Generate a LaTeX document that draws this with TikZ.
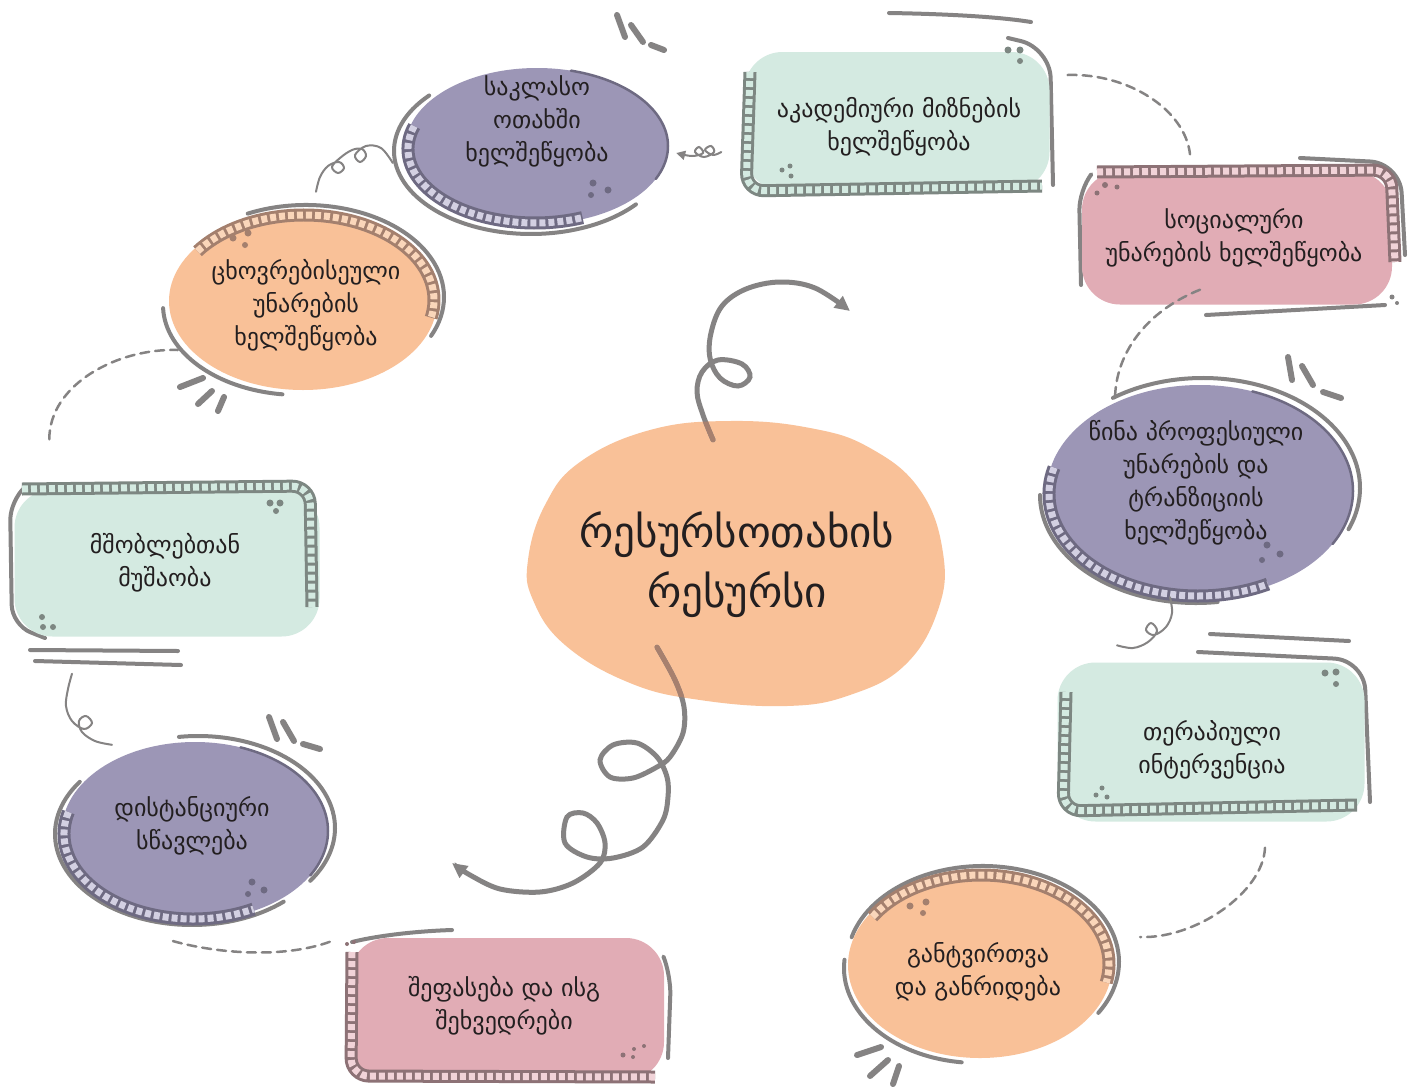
\documentclass[tikz,border=0pt]{standalone}
\usepackage{fontspec}
\setmainfont{DejaVu Sans}
\usetikzlibrary{arrows.meta,shapes.geometric}
\definecolor{ink}{HTML}{231F20}
\definecolor{sk}{HTML}{858383}
\definecolor{purp}{HTML}{9C96B6}
\definecolor{purpdk}{HTML}{6E6A82}
\definecolor{purplt}{HTML}{D3D0E2}
\definecolor{grn}{HTML}{D4EAE1}
\definecolor{grndk}{HTML}{7D8782}
\definecolor{grnlt}{HTML}{D4EAE1}
\definecolor{pnk}{HTML}{E1ACB5}
\definecolor{pnkdk}{HTML}{8D7276}
\definecolor{pnklt}{HTML}{F1D3D8}
\definecolor{org}{HTML}{F9C198}
\definecolor{orgdk}{HTML}{A4806E}
\definecolor{orglt}{HTML}{FAD6BA}
\definecolor{hubbrown}{HTML}{A7806E}
\tikzset{
  lbl/.style={text=ink, align=center, font=\fontsize{24}{33}\selectfont, inner sep=0},
  hublbl/.style={text=ink, align=center, font=\fontsize{43}{60}\selectfont, inner sep=0},
  oval/.style={ellipse, fill=#1, draw=none, inner sep=0},
  card/.style={rectangle, rounded corners=38, fill=#1, draw=none, inner sep=0},
  bandline/.style={line width=13, draw=#1, line join=round},
  hatchline/.style={line width=7, draw=#1, dash pattern=on 6 off 3},
  sketch/.style={line width=4, draw=sk, line cap=round, line join=round},
  thinline/.style={line width=2.5, draw=#1, line cap=round},
  ray/.style={line width=6, draw=sk, line cap=round},
  dashlink/.style={line width=2.5, draw=sk, dash pattern=on 9 off 6, line cap=round},
  curl/.style={line width=2, draw=sk, line cap=round},
  bigcurl/.style={line width=5, draw=sk, line cap=round},
  smalltip/.style={-{Triangle[length=9,width=9]}},
  bigtip/.style={-{Triangle[length=15,width=14]}},
}
\newcommand\skarc[6][sketch]{\draw[#1] (#2) ++(#5:#3 and #4) arc[start angle=#5,end angle=#6,x radius=#3,y radius=#4];}
\newcommand\bandarc[7]{%
  \draw[bandline=#6] (#1) ++(#4:#2 and #3) arc[start angle=#4,end angle=#5,x radius=#2,y radius=#3];
  \draw[hatchline=#7] (#1) ++(#4:#2 and #3) arc[start angle=#4,end angle=#5,x radius=#2,y radius=#3];}
\newcommand\bandpath[3]{%
  \draw[bandline=#1, rounded corners=18] #3;
  \draw[hatchline=#2, rounded corners=18] #3;}
\newcommand\dotgroup[4]{\fill[#1] (#2) circle[radius=3.5] (#3) circle[radius=3.5] (#4) circle[radius=3];}
\begin{document}
\begin{tikzpicture}[x=1pt,y=-1pt]
\useasboundingbox (0,0) rectangle (1411,1087);
\fill[white] (0,0) rectangle (1411,1087);

% ---------- sketch outlines (behind) ----------
\skarc{531,151}{137}{83}{222}{40}
\skarc{306,297}{138}{92}{245}{385}
\skarc{299,305}{136}{90}{178}{97}
\skarc{983,962}{136}{96}{195}{392}
\skarc{978,968}{134}{95}{185}{97}
\skarc{1203,488}{157}{110}{235}{382}
\skarc{1196,495}{156}{108}{180}{82}
\skarc{198,828}{137}{92}{262}{395}
\skarc{192,834}{137}{91}{215}{48}
\draw[sketch, rounded corners=30] (1008,38) -- (1050,48) -- (1053,185);
\draw[sketch] (889,13) .. controls (950,14) and (1000,17) .. (1031,22);
\draw[sketch, rounded corners=30] (1198,652) -- (1364,660) -- (1370,802);
\draw[sketch] (1210,634) -- (1349,641);
\draw[sketch, rounded corners=20] (24,488) -- (10,500) -- (12,625) -- (45,638);
\draw[sketch] (30,650) -- (178,651);
\draw[sketch] (35,661) -- (181,665);
\draw[sketch, rounded corners=30] (1300,158) -- (1400,163) -- (1405,255);
\draw[sketch, rounded corners=20] (1090,176) -- (1079,190) -- (1081,285);
\draw[sketch] (1206,315) -- (1385,305);
\draw[sketch] (352,942) .. controls (380,935) and (420,931) .. (452,930);
\draw[sketch, rounded corners=20] (664,958) -- (671,975) -- (668,1058);

% ---------- shapes ----------
\node[oval=purp, minimum width=262, minimum height=156] (cls) at (537,146) {};
\node[card=grn, minimum width=305, minimum height=138] (acad) at (897,121) {};
\node[card=pnk, minimum width=310, minimum height=133] (soc) at (1237,238) {};
\node[oval=purp, minimum width=306, minimum height=212] (pre) at (1200,491) {};
\node[card=grn, minimum width=307, minimum height=159] (ther) at (1211,742) {};
\node[oval=org, minimum width=264, minimum height=186] (unl) at (980,965) {};
\node[card=pnk, minimum width=314, minimum height=142] (asmt) at (507,1009) {};
\node[oval=purp, minimum width=266, minimum height=178] (dist) at (195,831) {};
\node[card=grn, minimum width=305, minimum height=147] (par) at (167,563) {};
\node[oval=org, minimum width=268, minimum height=178] (life) at (303,301) {};

\fill[org] plot[smooth cycle, tension=0.7] coordinates {(528,560) (545,505) (580,462) (650,430) (730,421) (810,428) (870,448) (920,490) (943,553) (938,610) (905,665) (850,695) (787,706) (700,700) (630,683) (565,645) (533,600)};
\node[ellipse, minimum width=416, minimum height=284, inner sep=0] (hub) at (737,563) {};

% ---------- right thin lines of purple ovals ----------
\skarc[thinline=purpdk]{537,146}{131}{78}{285}{385}
\skarc[thinline=purpdk]{1200,491}{153}{106}{290}{390}
\skarc[thinline=purpdk]{195,831}{133}{89}{290}{390}

% ---------- hatched bands ----------
\bandarc{535,149}{127}{74}{198}{68}{purpdk}{purplt}
\bandarc{1198,494}{149}{102}{195}{62}{purpdk}{purplt}
\bandarc{193,834}{129}{85}{195}{62}{purpdk}{purplt}
\bandarc{304,300}{130}{85}{215}{372}{orgdk}{orglt}
\bandarc{981,964}{128}{89}{212}{372}{orgdk}{orglt}
\bandpath{grndk}{grnlt}{(750,72) -- (746,191) -- (1042,186)}
\bandpath{grndk}{grnlt}{(1066,692) -- (1063,811) -- (1357,805)}
\bandpath{grndk}{grnlt}{(22,489) -- (310,486) -- (312,607)}
\bandpath{pnkdk}{pnklt}{(1097,172) -- (1391,170) -- (1395,262)}
\bandpath{pnkdk}{pnklt}{(352,952) -- (351,1076) -- (655,1077)}

% ---------- dots ----------
\dotgroup{purpdk}{593,183}{608,190}{591,195}
\dotgroup{purpdk}{1267,545}{1280,554}{1262,560}
\dotgroup{purpdk}{252,882}{264,890}{248,894}
\dotgroup{orgdk}{233,238}{248,233}{245,245}
\dotgroup{orgdk}{910,906}{926,902}{923,913}
\dotgroup{grndk}{1008,50}{1020,50}{1020,61}
\dotgroup{grndk}{1325,673}{1336,672}{1336,684}
\dotgroup{grndk}{270,503}{280,503}{276,511}
\fill[grndk] (782,170) circle[radius=2.5] (790,166) circle[radius=2.5] (791,176) circle[radius=2.5];
\fill[grndk] (1102,788) circle[radius=2.5] (1096,795) circle[radius=2.5] (1107,797) circle[radius=2.5];
\fill[grndk] (42,617) circle[radius=3] (43,627) circle[radius=3] (53,627) circle[radius=3];
\fill[pnkdk] (1105,185) circle[radius=3] (1117,187) circle[radius=2.5] (1097,193) circle[radius=2.5];
\fill[sk] (1392,297) circle[radius=2.5] (1397,303) circle[radius=2];
\fill[pnkdk] (347,944) circle[radius=2] (354,942) circle[radius=2];
\fill[pnkdk] (623,1055) circle[radius=2.5] (633,1057) circle[radius=2] (634,1049) circle[radius=2] (644,1046) circle[radius=2];

% ---------- rays ----------
\draw[ray] (617,15) -- (625,37) (631,25) -- (643,42) (651,45) -- (664,50);
\draw[ray] (1288,357) -- (1292,380) (1302,366) -- (1313,385) (1323,392) -- (1341,398);
\draw[ray] (269,717) -- (277,739) (283,722) -- (294,741) (303,744) -- (320,749);
\draw[ray] (180,387) -- (203,378) (198,404) -- (212,391) (218,411) -- (224,397);
\draw[ray] (857,1055) -- (881,1047) (870,1076) -- (888,1060) (893,1084) -- (899,1066);

% ---------- labels ----------
\node[lbl] (clsT) at (537,121) {საკლასო\\ოთახში\\ხელშეწყობა};
\node[lbl] (acadT) at (899,127) {აკადემიური მიზნების\\ხელშეწყობა};
\node[lbl] (socT) at (1234,238) {სოციალური\\უნარების ხელშეწყობა};
\node[lbl] (preT) at (1196,483) {წინა პროფესიული\\უნარების და\\ტრანზიციის\\ხელშეწყობა};
\node[lbl] (therT) at (1212,750) {თერაპიული\\ინტერვენცია};
\node[lbl] (unlT) at (978,972) {განტვირთვა\\და განრიდება};
\node[lbl] (asmtT) at (504,1006) {შეფასება და ისგ\\შეხვედრები};
\node[lbl] (distT) at (192,826) {დისტანციური\\სწავლება};
\node[lbl] (parT) at (165,563) {მშობლებთან\\მუშაობა};
\node[lbl] (lifeT) at (306,305) {ცხოვრებისეული\\უნარების\\ხელშეწყობა};
\node[hublbl] (hubT) at (737,565) {რესურსოთახის\\რესურსი};

% ---------- dashed links ----------
\draw[dashlink] ([shift={(18,-46)}]acad.east) .. controls +(60,-2) and +(-5,-45) .. ([shift={(-47,-17)}]soc.north);
\draw[dashlink] ([shift={(-37,-15)}]soc.south) .. controls +(-55,22) and +(0,-45) .. ([shift={(-85,15)}]pre.north);
\draw[dashlink] ([shift={(54,26)}]ther.south) .. controls +(-2,45) and +(55,2) .. ([shift={(28,-28)}]unl.east);
\draw[dashlink] ([shift={(-20,4)}]asmt.north west) .. controls +(-50,18) and +(40,12) .. ([shift={(-25,20)}]dist.south);
\draw[dashlink] ([shift={(35,-50)}]par.north west) .. controls +(0,-55) and +(-60,-2) .. ([shift={(9,49)}]life.west);

% ---------- curly links ----------
\coordinate (c0) at ([shift={(-23,31)}]acad.west);
\coordinate (c1) at ([shift={(8,7)}]cls.east);
\draw[curl, smalltip] plot[smooth, tension=0.6] coordinates {(c0) (713,155) (705,150) (711,146) (714,152) (704,157) (695,152) (699,147) (703,153) (692,156) (c1)};
\coordinate (d0) at ([shift={(13,-20)}]life.north);
\coordinate (d1) at ([shift={(-13,17)}]cls.west);
\draw[curl] plot[smooth, tension=0.6] coordinates {(d0) (320,177) (328,166) (339,162) (344,168) (338,173) (332,167) (340,158) (352,150) (362,149) (366,156) (360,162) (355,155) (366,146) (381,148) (d1)};
\coordinate (e0) at ([shift={(-30,0)}]pre.south);
\coordinate (e1) at ([shift={(-94,-17)}]ther.north);
\draw[curl] plot[smooth, tension=0.6] coordinates {(e0) (1172,613) (1166,627) (1154,635) (1146,630) (1151,623) (1157,631) (1148,642) (1133,648) (e1)};
\coordinate (f0) at ([shift={(-83,3)}]dist.north);
\coordinate (f1) at ([shift={(-95,37)}]par.south);
\draw[curl] plot[smooth, tension=0.6] coordinates {(f0) (95,741) (82,732) (79,721) (86,716) (92,723) (84,729) (72,721) (66,706) (68,689) (f1)};

\coordinate (a0) at ([shift={(-24,19)}]hub.north);
\coordinate (a1) at (850,311);
\draw[bigcurl, bigtip] plot[smooth, tension=0.6] coordinates {(a0) (703,415) (697,392) (702,372) (718,360) (742,364) (750,377) (738,386) (720,378) (710,358) (711,333) (722,306) (746,289) (780,282) (815,288) (a1)};
\coordinate (b0) at ([shift={(-80,-58)}]hub.south);
\coordinate (b1) at (452,863);
\draw[bigcurl, bigtip] plot[smooth, tension=0.55] coordinates {(b0) (675,680) (684,707) (683,733) (670,757) (657,767) (633,778) (610,777) (600,760) (613,745) (637,743) (657,757) (667,777) (668,797) (663,820) (643,847) (613,858) (587,857) (565,843) (567,817) (583,813) (597,823) (605,843) (600,863) (573,883) (540,892) (500,889) (470,875) (b1)};
\begin{scope}
\clip plot[smooth cycle, tension=0.7] coordinates {(528,560) (545,505) (580,462) (650,430) (730,421) (810,428) (870,448) (920,490) (943,553) (938,610) (905,665) (850,695) (787,706) (700,700) (630,683) (565,645) (533,600)};
\draw[bigcurl, draw=hubbrown] plot[smooth, tension=0.6] coordinates {(a0) (703,415) (697,392) (702,372)};
\draw[bigcurl, draw=hubbrown] plot[smooth, tension=0.55] coordinates {(b0) (675,680) (684,707) (683,733) (670,757)};
\end{scope}
\end{tikzpicture}
\end{document}
